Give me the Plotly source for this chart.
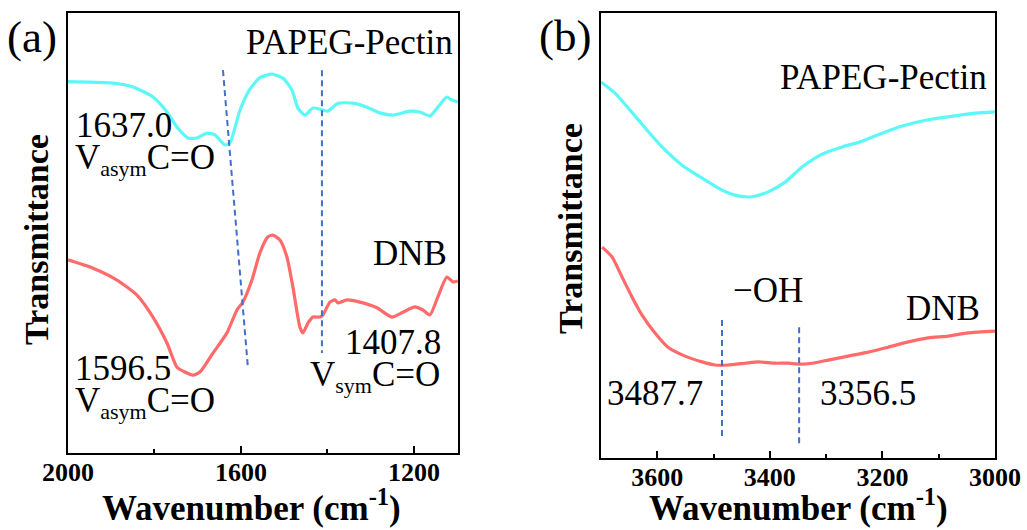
import plotly.graph_objects as go

# ---------------- Panel (a) data: 2000-1100 cm-1 ----------------
wn_a_pectin = [2000, 1902.9, 1849.7, 1803.5, 1771.1, 1748, 1722.5, 1701.7, 1678.6, 1660.1,
               1637, 1625.4, 1602.3, 1579.2, 1556.1, 1528.3, 1502.9, 1482.1, 1468.2, 1452,
               1433.5, 1412.7, 1398.8, 1387.3, 1375.7, 1341, 1308.7, 1278.6, 1248.6, 1209.2,
               1186.1, 1163, 1144.5, 1123.7, 1112.1, 1098.3]
t_a_pectin = [84.4, 84.1, 83.2, 80.9, 77.5, 74.1, 71.6, 71.6, 72.7, 72.3,
              70.0, 70.5, 77.9, 82.7, 85.3, 86.1, 85.2, 82.5, 78.4, 76.8,
              78.4, 78.0, 77.7, 78.6, 79.5, 79.5, 78.6, 77.3, 76.8, 77.7,
              77.5, 76.6, 78.6, 80.9, 80.2, 79.8]

wn_a_dnb = [2000, 1942.2, 1886.7, 1840.5, 1803.5, 1771.1, 1748, 1729.5, 1711, 1694.8,
            1664.7, 1632.4, 1609.2, 1595.4, 1574.6, 1556.1, 1538, 1526, 1509.8, 1493.6,
            1479.8, 1463.6, 1456.6, 1445.1, 1433.5, 1417.3, 1410.4, 1394.2, 1382.7, 1375.7,
            1354.9, 1324.9, 1285.5, 1250.9, 1225.4, 1197.7, 1179.2, 1163, 1144.5, 1123.7,
            1109.8, 1098.3]
t_a_dnb = [43.9, 42.0, 39.3, 35.9, 30.9, 25.0, 19.5, 18.4, 17.7, 18.4,
           22.7, 27.3, 32.5, 34.3, 39.3, 45.5, 49.1, 49.5, 48.4, 44.5,
           37.7, 28.6, 27.3, 29.5, 30.9, 30.9, 31.4, 34.3, 34.8, 34.1,
           34.8, 34.3, 33.0, 30.9, 32.0, 33.2, 32.5, 31.4, 35.5, 40.0,
           38.9, 39.1]

# guide lines (a)
guide_a1_x = [1641.6, 1583.8]
guide_a1_y = [87.0, 19.3]
guide_a2_x = [1412.7, 1412.7]
guide_a2_y = [87.0, 22.7]

# ---------------- Panel (b) data: 3700-3000 cm-1 ----------------
wn_b_pectin = [3700, 3675.1, 3652, 3621.8, 3591.6, 3556, 3520.4, 3484.9, 3456.4, 3431.6,
               3403.1, 3372.9, 3342.7, 3307.1, 3271.6, 3236, 3200.4, 3164.9, 3118.7, 3070.7,
               3035.1, 3000]
t_b_pectin = [84.5, 82.0, 78.7, 74.2, 69.9, 65.8, 62.9, 60.2, 58.9, 58.7,
              59.8, 62.0, 65.4, 68.3, 69.9, 71.2, 73.0, 74.6, 76.0, 76.9,
              77.5, 77.8]

wn_b_dnb = [3698, 3680.4, 3662.7, 3644.9, 3627.1, 3604, 3580.9, 3550.7, 3520.4, 3497.3,
            3474.2, 3444, 3420.9, 3390.7, 3367.6, 3346.2, 3324.9, 3296.4, 3260.9, 3225.3,
            3189.8, 3154.2, 3118.7, 3083.1, 3047.6, 3000]
t_b_dnb = [47.4, 45.2, 40.7, 36.2, 32.1, 28.1, 24.9, 22.9, 21.6, 20.9,
           20.9, 21.3, 21.6, 21.3, 21.3, 21.1, 21.3, 22.0, 22.9, 23.8,
           24.9, 26.1, 27.0, 27.4, 28.1, 28.5]

guide_b1_x = [3485, 3485]
guide_b1_y = [31.0, 4.7]
guide_b2_x = [3348, 3348]
guide_b2_y = [29.4, 2.9]

CYAN = "#5CF8F8"
RED = "#FF6A6A"
BLUE = "#3F6FCF"
FONT = "Liberation Serif"

fig = go.Figure()

def line(x, y, color, xa, ya, width=3.2):
    fig.add_trace(go.Scatter(x=x, y=y, mode="lines", xaxis=xa, yaxis=ya,
                             line=dict(color=color, width=width, shape="spline", smoothing=0.6),
                             showlegend=False, hoverinfo="skip"))

def guide(x, y, xa, ya):
    fig.add_trace(go.Scatter(x=x, y=y, mode="lines", xaxis=xa, yaxis=ya,
                             line=dict(color=BLUE, width=2, dash="6px,4px"),
                             showlegend=False, hoverinfo="skip"))

line(wn_a_pectin, t_a_pectin, CYAN, "x", "y")
line(wn_a_dnb, t_a_dnb, RED, "x", "y")
guide(guide_a1_x, guide_a1_y, "x", "y")
guide(guide_a2_x, guide_a2_y, "x", "y")

line(wn_b_pectin, t_b_pectin, CYAN, "x2", "y2")
line(wn_b_dnb, t_b_dnb, RED, "x2", "y2")
guide(guide_b1_x, guide_b1_y, "x2", "y2")
guide(guide_b2_x, guide_b2_y, "x2", "y2")

W, H = 1027, 530

def px(x):
    return x / W

def py(y):
    return 1 - y / H

tickfont = dict(family=FONT, size=26, color="black", weight="bold")
xcommon = dict(showline=True, linecolor="black", linewidth=2, mirror=True,
               ticks="inside", ticklen=7, tickwidth=2, tickcolor="black",
               showgrid=False, zeroline=False, tickfont=tickfont,
               ticklabelstandoff=-5, automargin=False,
               minor=dict(ticks="inside", ticklen=4, tickwidth=2, tickcolor="black", showgrid=False))
ycommon = dict(showline=True, linecolor="black", linewidth=2, mirror=True,
               ticks="", showticklabels=False, showgrid=False, zeroline=False,
               automargin=False, range=[0, 100])

fig.update_layout(
    width=W, height=H,
    margin=dict(l=0, r=0, t=0, b=0, autoexpand=False),
    paper_bgcolor="white", plot_bgcolor="white",
    xaxis=dict(domain=[px(68), px(458)], range=[2000, 1098], dtick=400, tick0=0,
               anchor="y", **xcommon),
    yaxis=dict(domain=[py(453), py(13)], anchor="x", **ycommon),
    xaxis2=dict(domain=[px(601), px(995)], range=[3700, 3000], dtick=200, tick0=0,
                anchor="y2", **xcommon),
    yaxis2=dict(domain=[py(458), py(13)], anchor="x2", **ycommon),
)
fig.layout.xaxis.minor.dtick = 200
fig.layout.xaxis2.minor.dtick = 100

def ann(text, x, y, size=35, xanchor="left", bold=False, angle=0):
    fig.add_annotation(text=text, x=px(x), y=py(y), xref="paper", yref="paper",
                       xanchor=xanchor, yanchor="middle", showarrow=False, textangle=angle,
                       font=dict(family=FONT, size=size, color="black",
                                 weight="bold" if bold else "normal"))

SUB = "<sub><span style='font-size:22px'>{}</span></sub>"

# panel labels
ann("(a)", 5, 37, size=45)
ann("(b)", 537, 36, size=45)

# panel (a) annotations
ann("PAPEG-Pectin", 455, 43, xanchor="right")
ann("1637.0", 74, 125)
ann("V" + SUB.format("asym") + "C=O", 73, 160)
ann("DNB", 449, 253, xanchor="right")
ann("1596.5", 73, 368)
ann("V" + SUB.format("asym") + "C=O", 73, 402)
ann("1407.8", 343, 342)
ann("V" + SUB.format("sym") + "C=O", 308, 376)

# panel (b) annotations
ann("PAPEG-Pectin", 989, 78, xanchor="right")
ann("\u2212OH", 731, 290)
ann("DNB", 982, 308, xanchor="right")
ann("3487.7", 605, 394)
ann("3356.5", 818, 394)

# axis titles
ann("Transmittance", 36, 240, size=34, xanchor="center", bold=True, angle=-90)
ann("Transmittance", 570, 229, size=34, xanchor="center", bold=True, angle=-90)
ann("Wavenumber (cm<sup>-1</sup>)", 251, 505, size=35, xanchor="center", bold=True)
ann("Wavenumber (cm<sup>-1</sup>)", 798, 505, size=35, xanchor="center", bold=True)

fig.write_html("out.html")
